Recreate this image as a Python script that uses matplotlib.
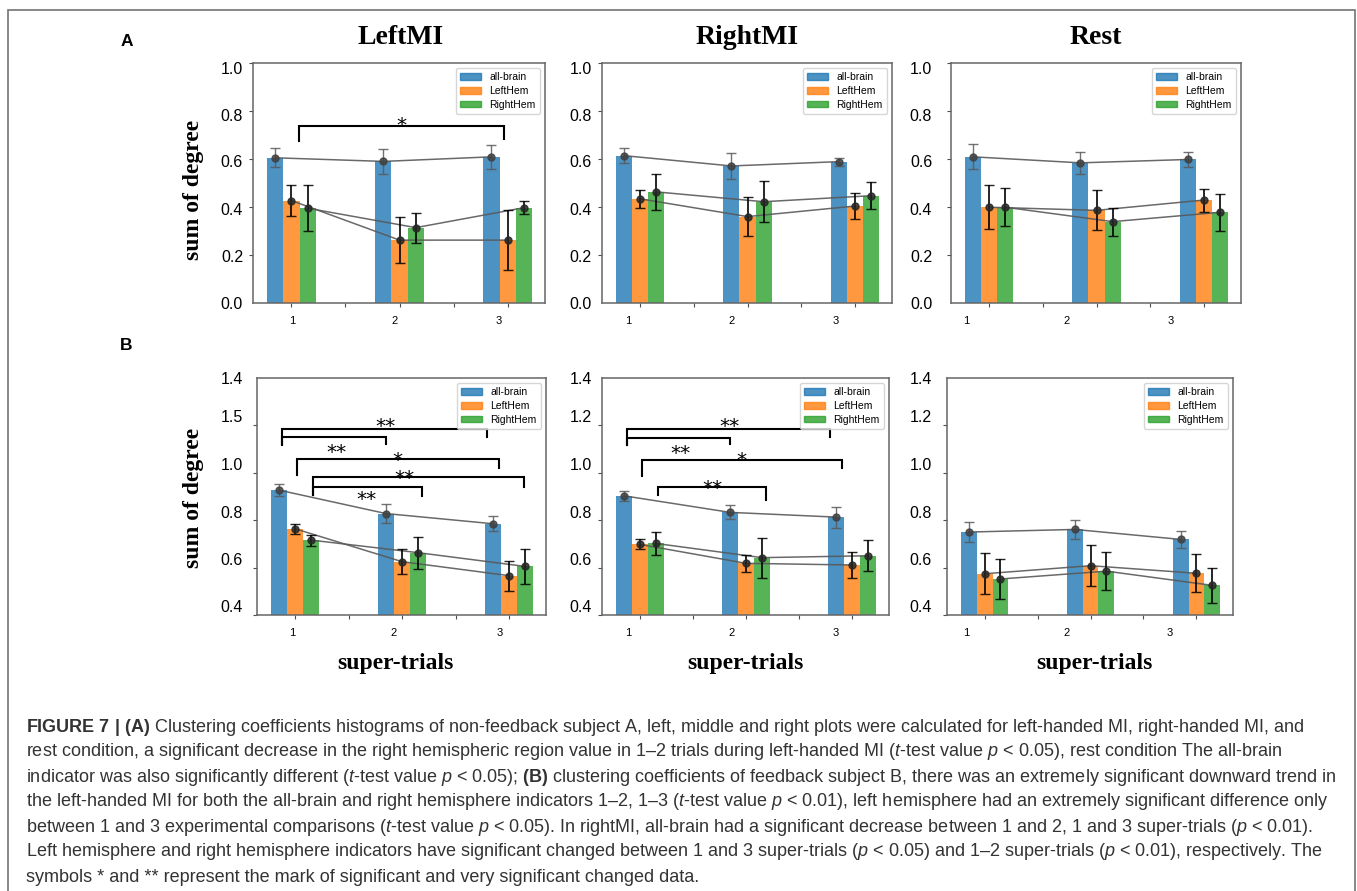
import matplotlib
matplotlib.use('Agg')
import matplotlib.pyplot as plt
from matplotlib.patches import Rectangle, Patch

plt.rcParams['font.family'] = ['Liberation Sans', 'DejaVu Sans']
plt.rcParams['mathtext.fontset'] = 'custom'
plt.rcParams['mathtext.rm'] = 'Liberation Sans'
plt.rcParams['mathtext.it'] = 'Liberation Sans:italic'
plt.rcParams['mathtext.bf'] = 'Liberation Sans:bold'

W, H = 1357, 891

conditions = ['LeftMI', 'RightMI', 'Rest']
series = ['all-brain', 'LeftHem', 'RightHem']
trials = ['1', '2', '3']
colors = ['#1f77b4', '#ff7f0e', '#2ca02c']

# (A) subject without feedback: [all-brain, LeftHem, RightHem] x super-trials
a_leftmi = [[0.605, 0.590, 0.609], [0.427, 0.262, 0.262], [0.395, 0.314, 0.397]]
a_leftmi_err = [[0.040, 0.053, 0.049], [0.064, 0.095, 0.124], [0.095, 0.063, 0.027]]
a_rightmi = [[0.614, 0.571, 0.589], [0.434, 0.360, 0.404], [0.463, 0.422, 0.447]]
a_rightmi_err = [[0.030, 0.053, 0.017], [0.037, 0.080, 0.054], [0.074, 0.086, 0.056]]
a_rest = [[0.609, 0.584, 0.598], [0.399, 0.386, 0.429], [0.399, 0.339, 0.378]]
a_rest_err = [[0.052, 0.046, 0.033], [0.092, 0.083, 0.048], [0.080, 0.058, 0.077]]

# (B) subject with feedback
b_leftmi = [[0.927, 0.828, 0.785], [0.764, 0.625, 0.566], [0.716, 0.663, 0.605]]
b_leftmi_err = [[0.024, 0.039, 0.032], [0.022, 0.054, 0.063], [0.023, 0.067, 0.074]]
b_rightmi = [[0.903, 0.833, 0.813], [0.698, 0.618, 0.611], [0.702, 0.642, 0.650]]
b_rightmi_err = [[0.022, 0.030, 0.044], [0.021, 0.035, 0.056], [0.049, 0.085, 0.066]]
b_rest = [[0.750, 0.761, 0.719], [0.574, 0.608, 0.576], [0.552, 0.585, 0.525]]
b_rest_err = [[0.042, 0.040, 0.035], [0.086, 0.086, 0.080], [0.084, 0.080, 0.074]]

# significance brackets: x_left, x_right, y, y_end_left, y_end_right, mark, mark_x, mark_y
a_leftmi_sig = [(0.074, 1.97, 0.738, 0.676, 0.683, '*', 1.02, 0.765)]
b_leftmi_sig = [(-0.123, 1.79, 1.184, 1.119, 1.151, '**', 0.85, 1.222),
                (-0.123, 0.85, 1.149, 1.123, 1.123, '**', 0.384, 1.112),
                (0.019, 1.906, 1.057, 0.990, 1.021, '*', 0.959, 1.078),
                (0.17, 2.14, 0.983, 0.906, 0.941, '**', 1.019, 1.004),
                (0.17, 1.19, 0.942, 0.906, 0.901, '**', 0.667, 0.913)]
b_rightmi_sig = [(-0.119, 1.787, 1.184, 1.116, 1.149, '**', 0.845, 1.222),
                 (-0.119, 0.845, 1.147, 1.116, 1.123, '**', 0.385, 1.109),
                 (0.019, 1.903, 1.056, 0.987, 1.021, '*', 0.955, 1.078),
                 (0.169, 1.19, 0.938, 0.906, 0.887, '**', 0.685, 0.959)]

# tick labels as printed (the original B panel reads 1.5 where 1.2 is meant)
a_yticks = [0.0, 0.2, 0.4, 0.6, 0.8, 1.0]
a_ylabels = ['0.0', '0.2', '0.4', '0.6', '0.8', '1.0']
a_ylabel_pos = [0.0, 0.197, 0.392, 0.593, 0.785, 0.979]
b_yticks = [0.4, 0.6, 0.8, 1.0, 1.2, 1.4]
b_ylabels_left = ['0.4', '0.6', '0.8', '1.0', '1.5', '1.4']
b_ylabels = ['0.4', '0.6', '0.8', '1.0', '1.2', '1.4']
b_ylabel_pos = [0.438, 0.635, 0.835, 1.039, 1.238, 1.400]

fig = plt.figure(figsize=(W / 100, H / 100), dpi=100)


def px_axes(l, t, r, b):
    return fig.add_axes([l / W, 1 - b / H, (r - l) / W, (b - t) / H])


panels = [
    # rect (px), data, err, sig, ylim, ylabels, ylabel positions, xlabel positions, ylabel pad
    ((253, 63, 545, 303), a_leftmi, a_leftmi_err, a_leftmi_sig, (0, 1.0), a_ylabels, a_ylabel_pos, [0.01, 0.95, 1.92], 7.2),
    ((602, 63, 892, 303), a_rightmi, a_rightmi_err, [], (0, 1.0), a_ylabels, a_ylabel_pos, [-0.11, 0.85, 1.82], 7.2),
    ((951, 63, 1241, 303), a_rest, a_rest_err, [], (0, 1.0), a_ylabels, a_ylabel_pos, [-0.21, 0.72, 1.69], 13.5),
    ((257, 378, 546, 615), b_leftmi, b_leftmi_err, b_leftmi_sig, (0.4, 1.4), b_ylabels_left, b_ylabel_pos, [-0.025, 0.92, 1.91], 10),
    ((602, 378, 889, 615), b_rightmi, b_rightmi_err, b_rightmi_sig, (0.4, 1.4), b_ylabels, b_ylabel_pos, [-0.11, 0.86, 1.84], 7.2),
    ((947, 378, 1233, 615), b_rest, b_rest_err, [], (0.4, 1.4), b_ylabels, b_ylabel_pos, [-0.17, 0.77, 1.75], 10.8),
]

width = 0.15
groups = [0, 1, 2]

for i, (rect, data, err, sig, ylim, ylabels, ylab_pos, xlab_pos, ypad) in enumerate(panels):
    ax = px_axes(*rect)
    for s in range(3):
        xs = [g + (s - 1) * width for g in groups]
        ax.bar(xs, data[s], width, color=colors[s], alpha=0.8, label=series[s], zorder=2)
    for s in range(3):
        xs = [g + (s - 1) * width for g in groups]
        ax.plot(xs, data[s], color='0.35', lw=1.1, alpha=0.9, zorder=3)
        if s == 0:
            ax.errorbar(xs, data[s], yerr=err[s], fmt='o', color='0.25', ecolor='0.35',
                        elinewidth=1.0, capsize=3.5, capthick=1.0, ms=5, alpha=0.85, zorder=4)
        else:
            ax.errorbar(xs, data[s], yerr=err[s], fmt='o', color='0.15', ecolor='k',
                        elinewidth=1.4, capsize=3.5, capthick=1.0, ms=5, alpha=0.85, zorder=4)

    for x0, x1, y, ye0, ye1, mark, mx, my in sig:
        ax.plot([x0, x0, x1, x1], [ye0, y, y, ye1], color='k', lw=1.5, zorder=5,
                solid_joinstyle='miter')
        ax.annotate(mark, (mx, my), xytext=(0, -0.59 * 14.5), textcoords='offset points',
                    ha='center', va='baseline', fontsize=14.5, family='DejaVu Sans', zorder=6)

    ax.set_xlim(-0.355, 2.345)
    ax.set_ylim(*ylim)
    yt = a_yticks if ylim[0] == 0 else b_yticks
    ax.set_yticks(yt, minor=True)
    ax.set_yticks(ylab_pos)
    ax.set_yticklabels(ylabels)
    ax.tick_params(axis='y', which='major', length=0, labelsize=11.5, pad=ypad)
    ax.tick_params(axis='y', which='minor', length=3, color='0.3', width=0.8)
    ax.set_xticks([0, 0.5, 1, 1.5, 2], minor=True)
    ax.set_xticks(xlab_pos)
    ax.set_xticklabels(trials)
    ax.tick_params(axis='x', which='major', length=0, labelsize=8, pad=9.5)
    ax.tick_params(axis='x', which='minor', length=3, color='0.3', width=0.8)
    for sp in ax.spines.values():
        sp.set_color('0.4')
        sp.set_linewidth(1.1)

    handles = [Patch(color=colors[s], alpha=0.8) for s in range(3)]
    leg = ax.legend(handles, series, loc='upper right', fontsize=7.5, fancybox=True,
                    handlelength=2.0, handleheight=0.6, borderpad=0.4, labelspacing=0.35)
    leg.get_frame().set_edgecolor('0.8')

# titles, axis labels, panel letters
serif = 'Liberation Serif'
for cx, name in zip([401, 747, 1096], conditions):
    fig.text(cx / W, 1 - 38 / H, name, ha='center', va='center', fontsize=20,
             family=serif, weight='bold')
for cx in [395, 745, 1094]:
    fig.text(cx / W, 1 - 663 / H, 'super-trials', ha='center', va='center', fontsize=17,
             family=serif, weight='bold')
for cy in [190, 498]:
    fig.text(193 / W, 1 - cy / H, 'sum of degree', ha='center', va='center', fontsize=17,
             family=serif, weight='bold', rotation=90)
fig.text(127 / W, 1 - 41 / H, 'A', ha='center', va='center', fontsize=12.5, weight='bold')
fig.text(126 / W, 1 - 345 / H, 'B', ha='center', va='center', fontsize=12.5, weight='bold')

# caption
caption = [
    r"$\mathbf{FIGURE\ 7\ |\ (A)}$ Clustering coefficients histograms of non-feedback subject A, left, middle and right plots were calculated for left-handed MI, right-handed MI, and",
    r"rest condition, a significant decrease in the right hemispheric region value in 1–2 trials during left-handed MI ($t$-test value $p$ < 0.05), rest condition The all-brain",
    r"indicator was also significantly different ($t$-test value $p$ < 0.05); $\mathbf{(B)}$ clustering coefficients of feedback subject B, there was an extremely significant downward trend in",
    r"the left-handed MI for both the all-brain and right hemisphere indicators 1–2, 1–3 ($t$-test value $p$ < 0.01), left hemisphere had an extremely significant difference only",
    r"between 1 and 3 experimental comparisons ($t$-test value $p$ < 0.05). In rightMI, all-brain had a significant decrease between 1 and 2, 1 and 3 super-trials ($p$ < 0.01).",
    r"Left hemisphere and right hemisphere indicators have significant changed between 1 and 3 super-trials ($p$ < 0.05) and 1–2 super-trials ($p$ < 0.01), respectively. The",
    r"symbols * and ** represent the mark of significant and very significant changed data.",
]
for k, line in enumerate(caption):
    fig.text(26 / W, 1 - (727 + 25 * k) / H, line, ha='left', va='center', fontsize=13,
             color='#333333')

# frame around the figure
fig.patches.append(Rectangle((8 / W, -0.02), (1355 - 8) / W, 1.02 - 10 / H,
                             transform=fig.transFigure, fill=False, edgecolor='0.45', lw=1.2))

fig.savefig('out.png', dpi=100)
